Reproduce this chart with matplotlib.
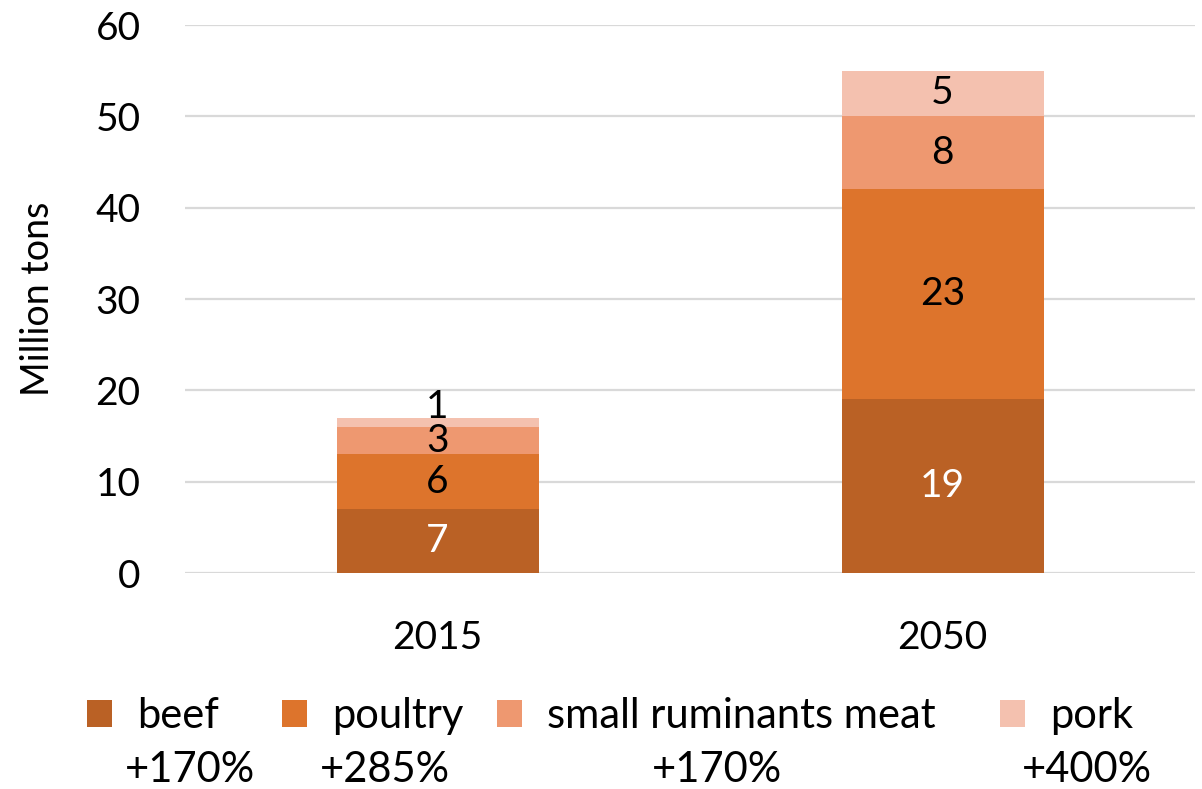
import matplotlib
matplotlib.use("Agg")
import matplotlib.pyplot as plt
import numpy as np

plt.rcParams['font.family'] = ['Lato', 'DejaVu Sans']

years = ["2015", "2050"]
series = ["beef", "poultry", "small ruminants meat", "pork"]
values = {
    "beef": [7, 19],
    "poultry": [6, 23],
    "small ruminants meat": [3, 8],
    "pork": [1, 5],
}
changes = ["+170%", "+285%", "+170%", "+400%"]
colors = ["#BA6125", "#DD742C", "#EE9870", "#F4C1AF"]
label_colors = ["white", "black", "black", "black"]

W, H = 1202, 789
fig = plt.figure(figsize=(W / 100, H / 100), dpi=100)
ax = fig.add_axes([185 / W, 1 - 573 / H, 1010 / W, 548 / H])

x = np.arange(len(years))
bottom = np.zeros(len(years))
handles = []
for si, (s, c, lc) in enumerate(zip(series, colors, label_colors)):
    v = np.array(values[s], dtype=float)
    b = ax.bar(x, v, 0.4, bottom=bottom, color=c, label=s, zorder=3)
    handles.append(b)
    for xi, vi, bi in zip(x, v, bottom):
        # a tiny top segment gets its label nudged upward, as in the source
        dy = 11 if (si == len(series) - 1 and vi < 2) else 0
        ax.annotate(f"{int(vi)}", (xi, bi + vi / 2), xytext=(0, dy),
                    textcoords="offset points", ha="center", va="center",
                    color=lc, fontsize=28, zorder=4)
    bottom += v

ax.set_xlim(-0.5, 1.5)
ax.set_ylim(0, 60)
ax.set_yticks(range(0, 61, 10))
ax.set_xticks(x)
ax.set_xticklabels(years)
ax.tick_params(axis="both", length=0, labelsize=28)
ax.tick_params(axis="x", pad=34)
ax.tick_params(axis="y", pad=32)
for sp in ax.spines.values():
    sp.set_visible(False)
ax.yaxis.grid(True, color="#D9D9D9", linewidth=1.6, zorder=0)
ax.set_axisbelow(True)
ax.set_ylabel("Million tons", fontsize=27)
ax.yaxis.set_label_coords(-0.128, 0.5)

# legend entries placed individually (square left edge in pixels)
sq_x = [87, 282, 497, 1000]
fs_leg = 30
for h, s, xp in zip(handles, series, sq_x):
    lg = fig.legend(handles=[h], labels=[s], loc="center left",
                    bbox_to_anchor=(xp / W, 1 - 716 / H), frameon=False,
                    fontsize=fs_leg, handlelength=0.6, handleheight=0.6,
                    handletextpad=0.6, borderpad=0, borderaxespad=0)

pct_x = [125, 320, 652, 1022]
for xp, t in zip(pct_x, changes):
    fig.text(xp / W, 1 - 770 / H, t, ha="left", va="center", fontsize=fs_leg)

fig.savefig("out.png", dpi=100)
